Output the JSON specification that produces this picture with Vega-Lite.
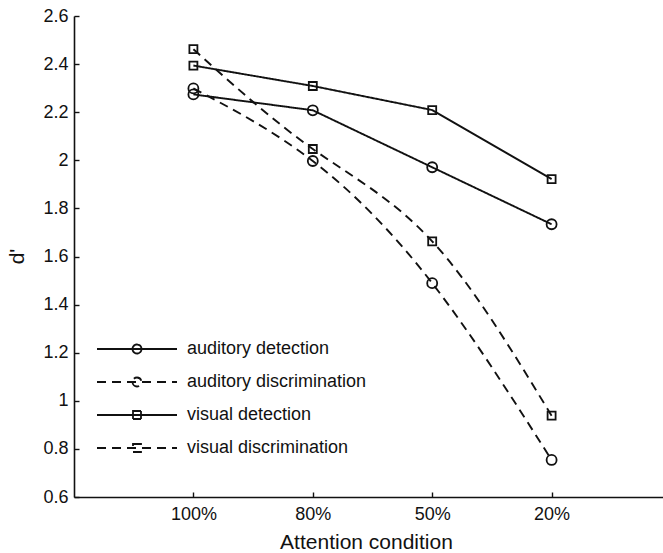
{
  "$schema": "https://vega.github.io/schema/vega-lite/v6.json",
  "width": 588,
  "height": 481,
  "autosize": {"type": "none"},
  "padding": {"left": 74, "top": 16, "right": 1, "bottom": 56},
  "background": "white",
  "config": {
    "view": {"stroke": null},
    "font": "Liberation Sans",
    "axis": {"domainColor": "#111", "domainWidth": 1.6, "tickColor": "#111", "tickWidth": 1.4, "labelColor": "#111", "titleColor": "#111", "labelFont": "Liberation Sans", "titleFont": "Liberation Sans", "titleFontWeight": "normal", "grid": false}
  },
  "data": {"values": [
    {"condition": "100%", "series": "auditory detection", "modality": "auditory", "task": "detection", "d": 2.274},
    {"condition": "80%", "series": "auditory detection", "modality": "auditory", "task": "detection", "d": 2.208},
    {"condition": "50%", "series": "auditory detection", "modality": "auditory", "task": "detection", "d": 1.971},
    {"condition": "20%", "series": "auditory detection", "modality": "auditory", "task": "detection", "d": 1.734},
    {"condition": "100%", "series": "auditory discrimination", "modality": "auditory", "task": "discrimination", "d": 2.299},
    {"condition": "80%", "series": "auditory discrimination", "modality": "auditory", "task": "discrimination", "d": 1.997},
    {"condition": "50%", "series": "auditory discrimination", "modality": "auditory", "task": "discrimination", "d": 1.489},
    {"condition": "20%", "series": "auditory discrimination", "modality": "auditory", "task": "discrimination", "d": 0.754},
    {"condition": "100%", "series": "visual detection", "modality": "visual", "task": "detection", "d": 2.394},
    {"condition": "80%", "series": "visual detection", "modality": "visual", "task": "detection", "d": 2.309},
    {"condition": "50%", "series": "visual detection", "modality": "visual", "task": "detection", "d": 2.209},
    {"condition": "20%", "series": "visual detection", "modality": "visual", "task": "detection", "d": 1.922},
    {"condition": "100%", "series": "visual discrimination", "modality": "visual", "task": "discrimination", "d": 2.462},
    {"condition": "80%", "series": "visual discrimination", "modality": "visual", "task": "discrimination", "d": 2.047},
    {"condition": "50%", "series": "visual discrimination", "modality": "visual", "task": "discrimination", "d": 1.663},
    {"condition": "20%", "series": "visual discrimination", "modality": "visual", "task": "discrimination", "d": 0.938}
  ]},
  "encoding": {
    "x": {"field": "condition", "type": "ordinal", "sort": ["100%", "80%", "50%", "20%"],
      "scale": {"type": "point", "padding": 1, "range": [0, 597]},
      "axis": {"title": "Attention condition", "labelAngle": 0, "labelFontSize": 18, "titleFontSize": 21, "tickSize": -5, "labelPadding": 13, "titleX": 292, "titleY": 51, "titleBaseline": "alphabetic"}},
    "y": {"field": "d", "type": "quantitative",
      "scale": {"domain": [0.6, 2.6], "nice": false, "zero": false},
      "axis": {"title": "d'", "values": [0.6, 0.8, 1, 1.2, 1.4, 1.6, 1.8, 2, 2.2, 2.4, 2.6], "format": "~g", "labelFontSize": 18, "titleFontSize": 21, "tickSize": -5, "labelPadding": 11, "titleX": -57, "titleY": 240, "titleAngle": -90, "titleAlign": "center", "titleBaseline": "middle"}}
  },
  "layer": [
    {
      "transform": [{"filter": "datum.task == 'detection'"}],
      "mark": {"type": "line", "color": "#111", "strokeWidth": 1.9, "interpolate": "linear"},
      "encoding": {
        "strokeDash": {"field": "series", "type": "nominal",
          "scale": {"domain": ["auditory detection", "auditory discrimination", "visual detection", "visual discrimination"], "range": [[1, 0], [9, 6], [1, 0], [9, 6]]},
          "legend": {"title": null, "orient": "none", "legendX": 0, "legendY": 324, "padding": 0, "labelFontSize": 18, "labelFont": "Liberation Sans", "labelColor": "#111", "labelOffset": 95, "labelLimit": 400, "rowPadding": 15,
            "symbolType": {"expr": "indexof(datum.value, 'auditory') == 0 ? 'M14,0H94M49.5,0A4.5,4.5 0 1,0 58.5,0A4.5,4.5 0 1,0 49.5,0' : 'M14,0H94M50,-4H58V4H50Z'"},
            "symbolSize": 4, "symbolStrokeColor": "#111", "symbolStrokeWidth": 1.8, "symbolFillColor": "transparent"}
        }
      }
    },
    {
      "transform": [{"filter": "datum.task == 'discrimination'"}],
      "mark": {"type": "line", "color": "#111", "strokeWidth": 1.9, "interpolate": "natural"},
      "encoding": {
        "strokeDash": {"field": "series", "type": "nominal"}
      }
    },
    {
      "mark": {"type": "point", "filled": false, "color": "#111", "strokeWidth": 1.8, "opacity": 1},
      "encoding": {
        "shape": {"field": "modality", "type": "nominal", "scale": {"domain": ["auditory", "visual"], "range": ["circle", "square"]}, "legend": null},
        "size": {"field": "modality", "type": "nominal", "scale": {"domain": ["auditory", "visual"], "range": [100, 64]}, "legend": null}
      }
    }
  ]
}
